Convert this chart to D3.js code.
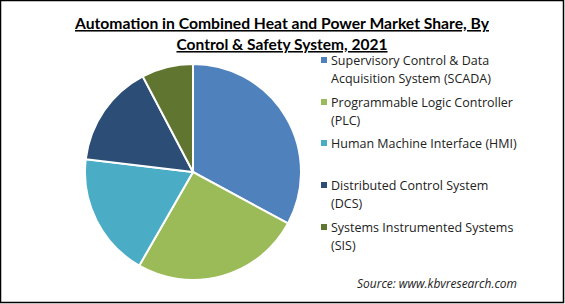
<!DOCTYPE html>
<html>
<head>
<meta charset="utf-8">
<script src="https://cdn.jsdelivr.net/npm/d3@7"></script>
<style>
  body { margin: 0; background: #fff; }
  svg { display: block; }
</style>
</head>
<body>
<svg id="chart"></svg>
<script>
const categories = [
    "Supervisory Control & Data Acquisition System (SCADA)",
    "Programmable Logic Controller (PLC)",
    "Human Machine Interface (HMI)",
    "Distributed Control System (DCS)",
    "Systems Instrumented Systems (SIS)"
];
const legendLines = [
    ["Supervisory Control & Data", "Acquisition System (SCADA)"],
    ["Programmable Logic Controller", "(PLC)"],
    ["Human Machine Interface (HMI)"],
    ["Distributed Control System", "(DCS)"],
    ["Systems Instrumented Systems", "(SIS)"]
];
const shares = [32.9, 25.4, 18.6, 15.4, 7.7];
const colors = ["#4f81bd", "#9bbb59", "#4bacc6", "#2c4d75", "#5f7530"];
const titleLines = ["Automation in Combined Heat and Power Market Share, By", "Control & Safety System, 2021"];

const W = 565, H = 304;
const svg = d3.select("#chart").attr("width", W).attr("height", H);

// frame
svg.append("rect")
    .attr("x", 0.5).attr("y", 0.5)
    .attr("width", W - 2).attr("height", H - 2)
    .attr("fill", "none")
    .attr("stroke", "#000")
    .attr("stroke-width", 1.5);

// title, centred on the page
const titleLen = [414, 211];
titleLines.forEach((t, i) => {
    svg.append("text")
        .attr("x", 282)
        .attr("y", 29 + i * 21)
        .attr("text-anchor", "middle")
        .attr("textLength", titleLen[i])
        .attr("lengthAdjust", "spacingAndGlyphs")
        .attr("font-family", "Lato, sans-serif")
        .attr("font-weight", "bold")
        .attr("font-size", "15.5px")
        .attr("text-decoration", "underline")
        .style("fill", "#000")
        .text(t);
});

// pie
const cx = 193, cy = 172, r = 108;
const pie = d3.pie().sort(null).value(d => d);
const arc = d3.arc().innerRadius(0).outerRadius(r);
const g = svg.append("g").attr("transform", `translate(${cx},${cy})`);
g.selectAll("path")
    .data(pie(shares))
    .enter().append("path")
    .attr("d", arc)
    .attr("fill", (d, i) => colors[i])
    .attr("stroke", "#fff")
    .attr("stroke-width", 2);

// legend
const legendY = [65, 107, 148, 190, 232];
const lg = svg.append("g");
categories.forEach((c, i) => {
    lg.append("rect")
        .attr("x", 321)
        .attr("y", legendY[i] - 8)
        .attr("width", 6)
        .attr("height", 6)
        .attr("fill", colors[i]);
    legendLines[i].forEach((line, j) => {
        lg.append("text")
            .attr("x", 331)
            .attr("y", legendY[i] + j * 18)
            .attr("font-family", "'Open Sans', sans-serif")
            .attr("font-size", "12.5px")
            .style("fill", "#222")
            .text(line);
    });
});

// source
svg.append("text")
    .attr("x", 357)
    .attr("y", 288)
    .attr("textLength", 160)
    .attr("lengthAdjust", "spacingAndGlyphs")
    .attr("font-family", "'Open Sans', sans-serif")
    .attr("font-style", "italic")
    .attr("font-size", "12px")
    .style("fill", "#222")
    .text("Source: www.kbvresearch.com");
</script>
</body>
</html>
